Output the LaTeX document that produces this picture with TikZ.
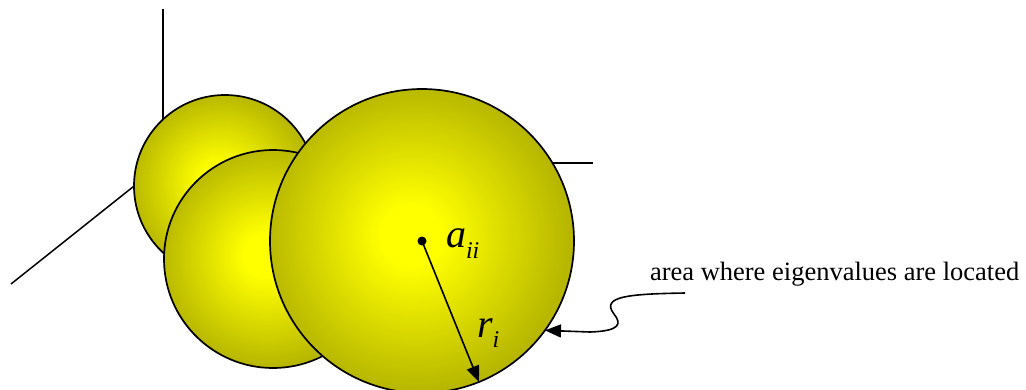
\documentclass[tikz,border=0pt]{standalone}
\usepackage{fontspec}
\setmainfont{Liberation Serif}
\usetikzlibrary{arrows.meta}
\definecolor{olivey}{RGB}{183,183,0}
\definecolor{brighty}{RGB}{255,255,0}
\pgfdeclareradialshading{sph}{\pgfpoint{-2bp}{1bp}}{color(0bp)=(brighty); color(5bp)=(brighty); color(25bp)=(olivey); color(50bp)=(olivey)}
\begin{document}
\begin{tikzpicture}[x=1pt,y=-1pt,
  sphere/.style={circle, draw=black, line width=1.7pt, shading=sph, inner sep=0pt, outer sep=0pt},
  axisline/.style={line width=1.5pt},
  tipline/.style={-{Triangle[length=16pt,width=13pt]}, line width=1.6pt},
  lbl/.style={inner sep=0pt, outer sep=0pt}]
\useasboundingbox (0,0) rectangle (1026,389);
% axes
\coordinate (O) at (163,163);
\coordinate (zend) at (163,9);
\coordinate (xend) at (11,284);
\coordinate (yend) at (593,163);
\draw[axisline] (O) -- (zend);
\draw[axisline] (O) -- (xend);
\draw[axisline] (O) -- (yend);
% spheres
\node[sphere, minimum size=182pt] (back) at (225,186) {};
\node[sphere, minimum size=218pt] (mid) at (273,259) {};
\node[sphere, minimum size=304pt] (front) at (422,241) {};
% centre and radius
\node[circle, fill=black, inner sep=0pt, minimum size=9pt] (dot) at (front.center) {};
\draw[tipline] (front.center) -- (front.-68.7);
\node[lbl, anchor=base west] (aii) at (446,247)
  {\fontsize{40}{40}\selectfont\itshape a\raisebox{-11pt}{\fontsize{24}{24}\selectfont ii}};
\node[lbl, anchor=base west] (ri) at (477,337)
  {\fontsize{40}{40}\selectfont\itshape r\raisebox{-10pt}{\fontsize{24}{24}\selectfont i}};
% annotation
\node[lbl, anchor=base west, font=\fontsize{26.5}{30}\selectfont] (area) at (650,280)
  {area where eigenvalues are located};
\coordinate (s) at (685,293);
\draw[tipline] (s) .. controls (630,294) and (600,296) .. (614,314)
  .. controls (622,324) and (620,331) .. (590,332) -- (front.-36);
\end{tikzpicture}
\end{document}
